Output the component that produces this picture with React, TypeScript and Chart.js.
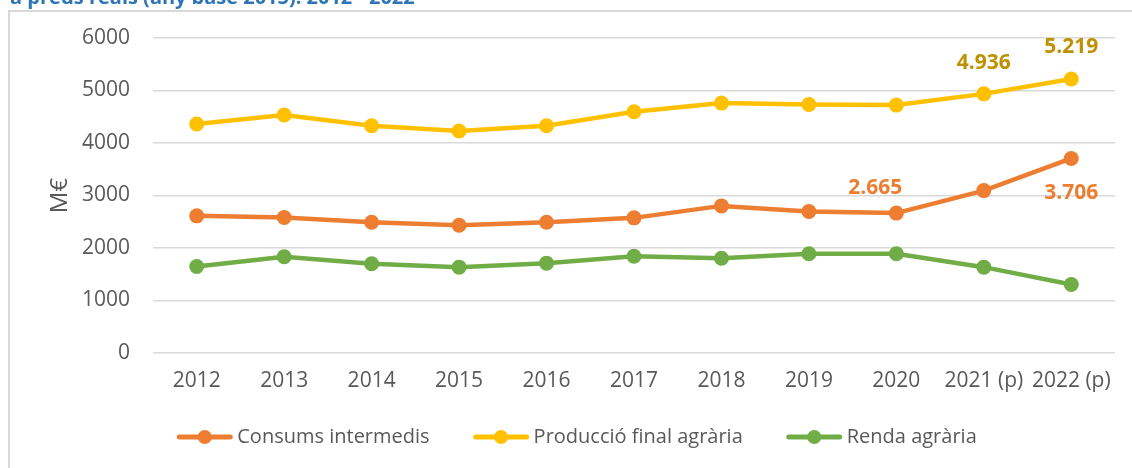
import React, { useEffect, useRef } from "react";
import { Chart, registerables } from "chart.js";

Chart.register(...registerables);

const categories = ["2012", "2013", "2014", "2015", "2016", "2017", "2018", "2019", "2020", "2021 (p)", "2022 (p)"];
const consumsIntermedis = [2612, 2580, 2490, 2433, 2490, 2574, 2802, 2694, 2665, 3093, 3706];
const produccioFinal = [4361, 4532, 4329, 4228, 4329, 4595, 4760, 4734, 4722, 4936, 5219];
const rendaAgraria = [1648, 1833, 1700, 1635, 1711, 1844, 1806, 1890, 1890, 1635, 1306];
const yTicks = [0, 1000, 2000, 3000, 4000, 5000, 6000];
const titleText = "a preus reals (any base 2015). 2012 - 2022";
const yTitle = "M€";

const FONT = "'Open Sans', 'Noto Sans', sans-serif";
const GREY = "#595959";

function fmt(v: number) {
  return Math.round(v).toString().replace(/\B(?=(\d{3})+(?!\d))/g, ".");
}

const decorPlugin = {
  id: "decor",
  beforeDraw(chart: any) {
    const ctx = chart.ctx;
    ctx.save();
    ctx.strokeStyle = "#D9D9D9";
    ctx.lineWidth = 2;
    ctx.strokeRect(9, 11, 2000, 2000);
    let size = 20;
    ctx.font = `bold ${size}px ${FONT}`;
    const w = ctx.measureText(titleText).width;
    size = (size * 405) / w;
    ctx.font = `bold ${size}px ${FONT}`;
    ctx.fillStyle = "#2E75B6";
    ctx.textBaseline = "alphabetic";
    ctx.textAlign = "left";
    ctx.fillText(titleText, 10, 4);
    ctx.restore();
  },
  afterDraw(chart: any) {
    const ctx = chart.ctx;
    const area = chart.chartArea;
    ctx.save();
    ctx.font = `24px ${FONT}`;
    ctx.fillStyle = GREY;
    ctx.translate(60, (area.top + area.bottom) / 2);
    ctx.rotate(-Math.PI / 2);
    ctx.textAlign = "center";
    ctx.textBaseline = "middle";
    ctx.fillText(yTitle, 0, 0);
    ctx.restore();

    chart.data.datasets.forEach((ds: any, di: number) => {
      const meta = chart.getDatasetMeta(di);
      (ds.valueLabels || []).forEach((lb: any) => {
        const pt = meta.data[lb.index];
        ctx.save();
        ctx.font = `bold 21px ${FONT}`;
        ctx.fillStyle = lb.color;
        ctx.textAlign = "center";
        ctx.textBaseline = "middle";
        ctx.fillText(fmt(ds.data[lb.index]), pt.x + (lb.dx || 0), pt.y + lb.dy);
        ctx.restore();
      });
    });

    ctx.save();
    ctx.font = `20px ${FONT}`;
    const lineLen = 55;
    const gapText = 5;
    const gapItem = 44;
    const items = chart.data.datasets.map((ds: any) => ({
      label: ds.label,
      color: ds.borderColor,
      w: lineLen + gapText + ctx.measureText(ds.label).width,
    }));
    const total = items.reduce((s: number, it: any) => s + it.w, 0) + gapItem * (items.length - 1);
    let x = 577 - total / 2;
    const y = 437;
    items.forEach((it: any) => {
      ctx.strokeStyle = it.color;
      ctx.lineWidth = 5;
      ctx.lineCap = "round";
      ctx.beginPath();
      ctx.moveTo(x + 2, y);
      ctx.lineTo(x + lineLen - 2, y);
      ctx.stroke();
      ctx.fillStyle = it.color;
      ctx.beginPath();
      ctx.arc(x + lineLen / 2, y, 7, 0, Math.PI * 2);
      ctx.fill();
      ctx.fillStyle = GREY;
      ctx.textAlign = "left";
      ctx.textBaseline = "middle";
      ctx.fillText(it.label, x + lineLen + gapText, y);
      x += it.w + gapItem;
    });
    ctx.restore();
  },
};

export default function App() {
  const ref = useRef<HTMLCanvasElement | null>(null);
  useEffect(() => {
    if (!ref.current) return;
    const mk = (label: string, data: number[], color: string, valueLabels: any[]) => ({
      label,
      data,
      borderColor: color,
      backgroundColor: color,
      borderWidth: 4.5,
      pointRadius: 7.5,
      pointHoverRadius: 7.5,
      pointBorderWidth: 0,
      pointBackgroundColor: color,
      tension: 0,
      valueLabels,
    });
    const chart = new Chart(ref.current, {
      type: "line",
      data: {
        labels: categories,
        datasets: [
          mk("Consums intermedis", consumsIntermedis, "#ED7D31", [
            { index: 8, dy: -25, dx: -21, color: "#ED7D31" },
            { index: 10, dy: 35, dx: 0, color: "#ED7D31" },
          ]),
          mk("Producció final agrària", produccioFinal, "#FFC000", [
            { index: 9, dy: -31, dx: 0, color: "#BF9000" },
            { index: 10, dy: -32, dx: 0, color: "#BF9000" },
          ]),
          mk("Renda agrària", rendaAgraria, "#70AD47", []),
        ] as any,
      },
      options: {
        responsive: false,
        animation: false,
        layout: { padding: { top: 38, right: 17, left: 0, bottom: 0 } },
        plugins: {
          legend: { display: false },
          title: { display: false },
          tooltip: { enabled: false },
        },
        scales: {
          x: {
            offset: true,
            grid: { display: false, drawTicks: false },
            border: { display: false },
            ticks: {
              color: GREY,
              font: { family: FONT, size: 21 },
              padding: 15,
              maxRotation: 0,
              autoSkip: false,
            },
            afterFit(scale: any) {
              scale.height = 115;
            },
          },
          y: {
            min: 0,
            max: 6000,
            afterBuildTicks(scale: any) {
              scale.ticks = yTicks.map((v) => ({ value: v }));
            },
            grid: { color: "#D9D9D9", lineWidth: 1.5, drawTicks: false },
            border: { display: false },
            ticks: {
              color: GREY,
              font: { family: FONT, size: 21 },
              padding: 23,
              callback: (v: any) => String(v),
            },
            afterFit(scale: any) {
              scale.width = 153;
            },
          },
        },
      },
      plugins: [decorPlugin],
    });
    return () => chart.destroy();
  }, []);
  return (
    <div style={{ position: "fixed", left: 0, top: 0, width: 1132, height: 468, background: "#fff" }}>
      <canvas ref={ref} width={1132} height={468} style={{ width: 1132, height: 468, display: "block" }} />
    </div>
  );
}
